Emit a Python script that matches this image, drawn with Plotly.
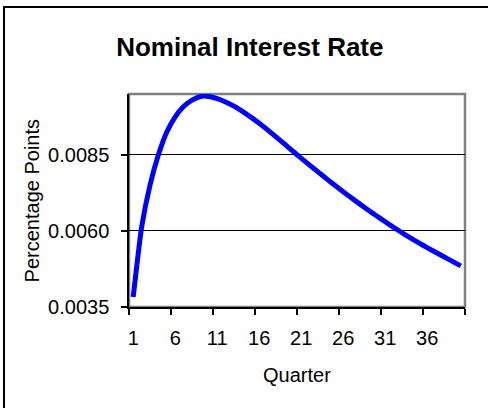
import plotly.graph_objects as go

# Quarter 1..40, nominal interest rate response
quarters = list(range(1, 41))
rate = [0.00383, 0.00612, 0.00750, 0.00850, 0.00925, 0.00975, 0.01009, 0.01030,
        0.01042, 0.01042, 0.01035, 0.01024, 0.01010, 0.00993, 0.00974, 0.00954,
        0.00932, 0.00909, 0.00886, 0.00862, 0.00839, 0.00816, 0.00794, 0.00772,
        0.00750, 0.00729, 0.00708, 0.00688, 0.00668, 0.00649, 0.00630, 0.00612,
        0.00594, 0.00577, 0.00561, 0.00545, 0.00530, 0.00515, 0.00500, 0.00485]

label_quarters = [1, 6, 11, 16, 21, 26, 31, 36]
boundary_ticks = [q - 0.5 for q in range(1, 42, 5)]

font = "Arial, Liberation Sans, sans-serif"

fig = go.Figure()
fig.add_trace(go.Scatter(
    x=quarters, y=rate, mode="lines",
    line=dict(color="#0000FF", width=5, shape="spline", smoothing=0.5),
    showlegend=False, hoverinfo="x+y",
))

fig.update_layout(
    width=488, height=408,
    margin=dict(l=129, r=23, t=94, b=101),
    paper_bgcolor="white", plot_bgcolor="white",
    font=dict(family=font, size=20, color="black"),
    title=dict(text="<b>Nominal Interest Rate</b>", font=dict(size=26),
               xref="container", x=0.512, xanchor="center",
               yref="container", y=0.886, yanchor="middle"),
)

fig.update_xaxes(
    range=[0.5, 40.5], tickmode="array", tickvals=label_quarters,
    ticks="", showgrid=False, zeroline=False,
    showline=True, linecolor="black", linewidth=1.5,
    ticklabelstandoff=12,
    minor=dict(tickmode="array", tickvals=boundary_ticks, ticks="outside",
               ticklen=6, tickcolor="black", tickwidth=1.5, showgrid=False),
)
fig.update_yaxes(
    range=[0.0035, 0.0105], tick0=0.0035, dtick=0.0025, tickformat=".4f",
    ticks="outside", ticklen=6, tickcolor="black", tickwidth=1.5,
    showgrid=True, gridcolor="black", gridwidth=1, zeroline=False,
    showline=True, linecolor="black", linewidth=1.5,
    ticklabelstandoff=8,
)

# gray plot-area frame (top and right)
fig.add_shape(type="rect", xref="paper", yref="paper", x0=0, x1=1, y0=0, y1=1,
              line=dict(color="#808080", width=2.5), layer="below")
# chart-area border
fig.add_shape(type="rect", xref="paper", yref="paper",
              x0=-0.372, x1=1.2, y0=-0.6, y1=1.408,
              line=dict(color="black", width=2))

fig.add_annotation(text="Percentage Points", xref="paper", yref="paper",
                   x=-0.289, y=0.5, xanchor="center", yanchor="middle",
                   textangle=-90, showarrow=False, font=dict(size=20))
fig.add_annotation(text="Quarter", xref="paper", yref="paper",
                   x=0.5, y=-0.317, xanchor="center", yanchor="middle",
                   showarrow=False, font=dict(size=20))

fig.write_html("out.html", config={"displayModeBar": False},
               post_script="document.body.style.margin='0';")
